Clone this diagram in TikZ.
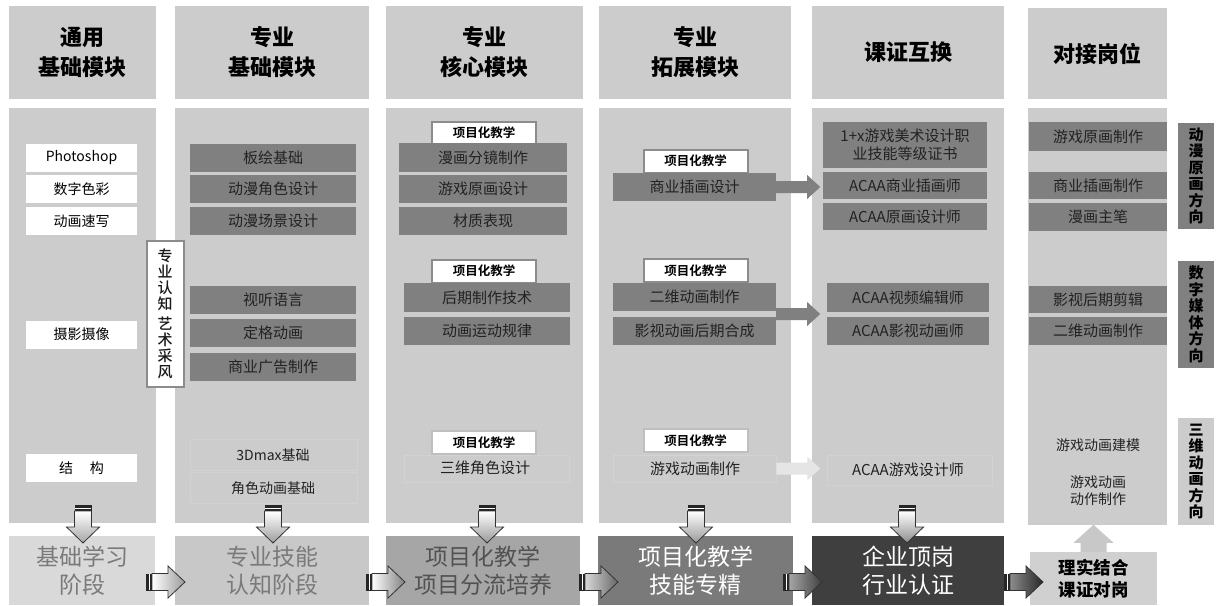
\documentclass[tikz,border=0pt]{standalone}
\usepackage{fontspec}
\setmainfont{Noto Sans CJK SC}[BoldFont={Noto Sans CJK SC Bold}]
\newfontfamily\heavyfont{Noto Sans CJK SC Black}
\newfontfamily\medfont{Noto Sans CJK SC Medium}
\usetikzlibrary{calc}
\definecolor{colbg}{HTML}{CCCCCC}
\definecolor{darkbox}{HTML}{808080}
\definecolor{boxtxt}{HTML}{222222}
\definecolor{tagline}{HTML}{8C8C8C}
\definecolor{taglight}{HTML}{BFBFBF}
\definecolor{faint}{HTML}{D2D2D2}
\definecolor{bot1}{HTML}{D9D9D9}
\definecolor{bot2}{HTML}{C8C8C8}
\definecolor{bot3}{HTML}{A6A6A6}
\definecolor{bot4}{HTML}{7A7A7A}
\definecolor{bot5}{HTML}{3F3F3F}
\definecolor{bot6}{HTML}{D0D0D0}
\newcommand\myrarrow[4]{%
  \fill[black!85] (#1,#2-8.5) rectangle (#1+6,#2+8.5);
  \draw[white, line width=0.8pt] (#1+3.5,#2-8) -- (#1+3.5,#2+8);
  \shadedraw[left color=#3, right color=#4, draw=black!80, line width=0.8pt]
    (#1+6,#2-8.5) -- (#1+22,#2-8.5) -- (#1+22,#2-16) -- (#1+39,#2) --
    (#1+22,#2+16) -- (#1+22,#2+8.5) -- (#1+6,#2+8.5) -- cycle;
}
\newcommand\mydarrow[3]{%
  \fill[black!85] (#1-8.5,505) rectangle (#1+8.5,511);
  \draw[white, line width=0.8pt] (#1-8,508.5) -- (#1+8,508.5);
  \shadedraw[top color=#2, bottom color=#3, draw=black!80, line width=0.8pt]
    (#1-8.5,511) -- (#1-8.5,527) -- (#1-16.5,527) -- (#1,543) --
    (#1+16.5,527) -- (#1+8.5,527) -- (#1+8.5,511) -- cycle;
}
\tikzset{
  hdr/.style={fill=colbg, inner sep=0pt, align=center, text=black,
    font=\heavyfont\fontsize{22}{30}\selectfont},
  wbox/.style={fill=white, inner sep=0pt, minimum width=111pt, minimum height=28pt,
    text=black, font=\fontsize{14}{16}\selectfont},
  dbox/.style={fill=darkbox, inner sep=0pt, minimum height=28pt, text=boxtxt,
    align=center, font=\fontsize{15}{18}\selectfont},
  tag/.style={fill=white, draw=tagline, line width=2pt, inner sep=0pt,
    minimum width=104pt, minimum height=23pt, text=black,
    font=\bfseries\fontsize{12.5}{14}\selectfont},
  plain/.style={inner sep=0pt, text=boxtxt, align=center,
    font=\fontsize{14}{17}\selectfont},
  fbox/.style={draw=faint, line width=0.5pt, fill=none, inner sep=0pt},
  bot/.style={inner sep=0pt, align=center, minimum height=69pt,
    font=\fontsize{23}{28}\selectfont},
  side/.style={inner sep=0pt, minimum width=36pt, minimum height=107pt, align=center,
    text=black, font=\heavyfont\fontsize{15}{16.5}\selectfont},
}
\begin{document}
\begin{tikzpicture}[x=1pt,y=-1pt]
\useasboundingbox (0,0) rectangle (1225,605);
\fill[white] (0,0) rectangle (1225,605);

% headers
\node[hdr, minimum width=147pt, minimum height=93pt] (h1) at (82.5,52.5) {通用\\基础模块};
\node[hdr, minimum width=194pt, minimum height=93pt] (h2) at (272,52.5) {专业\\基础模块};
\node[hdr, minimum width=197pt, minimum height=93pt] (h3) at (484.5,52.5) {专业\\核心模块};
\node[hdr, minimum width=192pt, minimum height=93pt] (h4) at (695,52.5) {专业\\拓展模块};
\node[hdr, minimum width=192pt, minimum height=93pt] (h5) at (908,52.5) {课证互换};
\node[hdr, minimum width=139pt, minimum height=91pt] (h6) at (1097.5,53.5) {对接岗位};

% bodies
\fill[colbg] (9,108) rectangle (156,523);
\fill[colbg] (175,108) rectangle (369,523);
\fill[colbg] (386,108) rectangle (583,523);
\fill[colbg] (599,108) rectangle (791,523);
\fill[colbg] (812,108) rectangle (1004,523);
\fill[colbg] (1028,108) rectangle (1167,525);

% column 1
\node[wbox] (a1) at (81.5,158) {Photoshop};
\node[wbox] (a2) at (81.5,189) {数字色彩};
\node[wbox] (a3) at (81.5,221) {动画速写};
\node[wbox] (a4) at (81.5,334.5) {摄影摄像};
\node[wbox] (a5) at (81.5,468) {结\hspace{1.2em}构};

% vertical box
\node[fill=white, draw=tagline, line width=2pt, inner sep=0pt, minimum width=37pt,
  minimum height=146pt, align=center, text=black!90, font=\medfont\fontsize{15}{16}\selectfont]
  (v1) at (165,313.5) {专\\业\\认\\知\\[4pt]艺\\术\\采\\风};

% column 2
\node[dbox, minimum width=166pt] (b1) at (273,158) {板绘基础};
\node[dbox, minimum width=166pt] (b2) at (273,189) {动漫角色设计};
\node[dbox, minimum width=166pt] (b3) at (273,221) {动漫场景设计};
\node[dbox, minimum width=166pt] (b4) at (273,299.5) {视听语言};
\node[dbox, minimum width=166pt] (b5) at (273,332.5) {定格动画};
\node[dbox, minimum width=166pt] (b6) at (273,367) {商业广告制作};
\node[fbox, minimum width=167pt, minimum height=31pt] (b7f) at (273.5,455) {};
\node[plain] (b7) at (273,455) {3Dmax基础};
\node[fbox, minimum width=167pt, minimum height=31pt] (b8f) at (273.5,488) {};
\node[plain] (b8) at (273,488) {角色动画基础};

% column 3
\node[tag] (t1) at (484,133) {项目化教学};
\node[dbox, minimum width=168pt, minimum height=29pt] (c1) at (483,157.5) {漫画分镜制作};
\node[dbox, minimum width=168pt] (c2) at (483,189) {游戏原画设计};
\node[dbox, minimum width=168pt] (c3) at (483,221) {材质表现};
\node[tag] (t2) at (484,271) {项目化教学};
\node[dbox, minimum width=166pt, minimum height=29pt] (c4) at (487,297.5) {后期制作技术};
\node[dbox, minimum width=166pt] (c5) at (487,331) {动画运动规律};
\node[tag, draw=taglight] (t3) at (484,442.5) {项目化教学};
\node[fbox, minimum width=165pt, minimum height=27pt] (c6f) at (486.5,468.5) {};
\node[plain, font=\fontsize{15}{17}\selectfont] (c6) at (485,468) {三维角色设计};

% column 4
\node[tag] (t4) at (695.5,161) {项目化教学};
\node[dbox, minimum width=163pt] (d1) at (694.5,187) {商业插画设计};
\node[tag] (t5) at (695.5,270.5) {项目化教学};
\node[dbox, minimum width=163pt] (d2) at (694.5,297) {二维动画制作};
\node[dbox, minimum width=163pt] (d3) at (694.5,331) {影视动画后期合成};
\node[tag, draw=taglight] (t6) at (695.5,440.5) {项目化教学};
\node[fbox, minimum width=163pt, minimum height=27pt] (d4f) at (694.5,468.5) {};
\node[plain, font=\fontsize{15}{17}\selectfont] (d4) at (695,469) {游戏动画制作};

% column 4 -> 5 arrows
\coordinate (ar1) at (d1.east);
\fill[darkbox] ($(ar1)+(0,-6)$) -- ++(31,0) -- ++(0,-6) -- ++(13,12) -- ++(-13,12)
  -- ++(0,-6) -- ++(-31,0) -- cycle;
\coordinate (ar2) at ($(d2.south east)!0.5!(d3.north east)$);
\fill[darkbox] ($(ar2)+(0,-6)$) -- ++(31,0) -- ++(0,-6) -- ++(13,12) -- ++(-13,12)
  -- ++(0,-6) -- ++(-31,0) -- cycle;
\coordinate (ar3) at (d4f.east);
\fill[black!10] ($(ar3)+(0,-6)$) -- ++(31,0) -- ++(0,-6) -- ++(13,12) -- ++(-13,12)
  -- ++(0,-6) -- ++(-31,0) -- cycle;

% column 5
\node[dbox, minimum width=164pt, minimum height=46pt] (e1) at (905,145)
  {1+x游戏美术设计职\\业技能等级证书};
\node[dbox, minimum width=164pt, minimum height=27pt] (e2) at (905,185.5) {ACAA商业插画师};
\node[dbox, minimum width=164pt, minimum height=27pt] (e3) at (905,216.5) {ACAA原画设计师};
\node[dbox, minimum width=162pt, minimum height=29pt] (e4) at (908,297.5) {ACAA视频编辑师};
\node[dbox, minimum width=162pt] (e5) at (908,331) {ACAA影视动画师};
\node[fbox, minimum width=165pt, minimum height=30pt] (e6f) at (909.5,470) {};
\node[plain, font=\fontsize{15}{17}\selectfont] (e6) at (908,470) {ACAA游戏设计师};

% column 6
\node[dbox, minimum width=138pt, minimum height=29pt] (f1) at (1098,136.5) {游戏原画制作};
\node[dbox, minimum width=138pt, minimum height=27pt] (f2) at (1098,185.5) {商业插画制作};
\node[dbox, minimum width=138pt] (f3) at (1098,217) {漫画主笔};
\node[dbox, minimum width=138pt, minimum height=27pt] (f4) at (1098,299.5) {影视后期剪辑};
\node[dbox, minimum width=138pt] (f5) at (1098,331) {二维动画制作};
\node[plain] (f6) at (1098,445) {游戏动画建模};
\node[plain] (f7) at (1098,491) {游戏动画\\动作制作};

% side labels
\node[side, fill=darkbox, minimum height=106pt] (s1) at (1196,176) {动\\漫\\原\\画\\方\\向};
\node[side, fill=darkbox] (s2) at (1196,314.5) {数\\字\\媒\\体\\方\\向};
\node[side, fill=colbg] (s3) at (1196,471.5) {三\\维\\动\\画\\方\\向};

% bottom row
\node[bot, fill=bot1, minimum width=146pt, text=black!52] (g1) at (82,570.5) {基础学习\\阶段};
\node[bot, fill=bot2, minimum width=194pt, text=black!52] (g2) at (272,570.5) {专业技能\\认知阶段};
\node[bot, fill=bot3, minimum width=194pt, text=black!68] (g3) at (483,570.5) {项目化教学\\项目分流培养};
\node[bot, fill=bot4, minimum width=195pt, text=white] (g4) at (695.5,570.5) {项目化教学\\技能专精};
\node[bot, fill=bot5, minimum width=192pt, text=white] (g5) at (908,570.5) {企业顶岗\\行业认证};
\node[bot, fill=bot6, minimum width=127pt, minimum height=53pt, text=black,
  font=\heavyfont\fontsize{17.5}{22}\selectfont] (g6) at (1093.5,578.5) {理实结合\\课证对岗};

% up arrow into column 6
\fill[bot2] ($(g6.north)+(-13,0)$) -- ++(0,-9) -- ++(-7,0) -- ($(g6.north)+(0,-27)$)
  -- ($(g6.north)+(20,-9)$) -- ++(-7,0) -- ++(0,9) -- cycle;

% down block arrows
\mydarrow{83}{white}{black!35}
\mydarrow{273}{white}{black!38}
\mydarrow{487}{white}{black!40}
\mydarrow{696}{white}{black!40}
\mydarrow{907}{white}{black!45}

% right block arrows
\myrarrow{146}{582}{white}{black!40}
\myrarrow{366}{582}{white}{black!50}
\myrarrow{579}{582}{black!15}{black!60}
\myrarrow{783}{582}{black!35}{black!75}
\myrarrow{1004}{582}{black!45}{black!85}
\end{tikzpicture}
\end{document}
